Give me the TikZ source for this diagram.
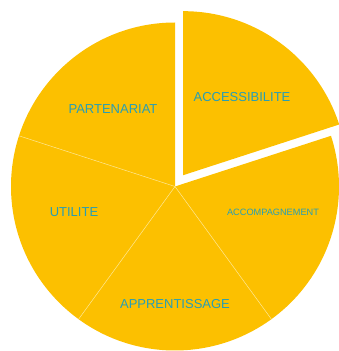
\documentclass[tikz,border=0pt]{standalone}
\usepackage{fontspec}
\setmainfont{Liberation Sans}
\usetikzlibrary{calc}
\definecolor{pieyellow}{RGB}{252,192,0}
\definecolor{pieteal}{RGB}{40,158,180}
\definecolor{pieline}{RGB}{254,232,150}

\begin{document}
\begin{tikzpicture}[x = 1pt, y = 1pt, font = \fontsize{13}{15}\selectfont, text = pieteal]
\useasboundingbox (0,0) rectangle (339,351);
\coordinate (c) at (175,164.5);
\coordinate (cx) at ($(c)+(54:14)$);
\fill [pieyellow] (c) -- ++(90:164) arc [start angle = 90, end angle = 378, radius = 164] -- cycle;
\foreach \a in {162,234,306}
\draw [pieline, line width = 0.5pt] (c) -- ++(\a:164);
\fill [pieyellow] (cx) -- ++(18:164) arc [start angle = 18, end angle = 90, radius = 164] -- cycle;
\node (partenariat) at (113,242) {PARTENARIAT};
\node (accessibilite) at (242,254) {ACCESSIBILITE};
\node (utilite) at (74,139) {UTILITE};
\node (apprentissage) at (175,47) {APPRENTISSAGE};
\node [font = \fontsize{9.2}{11}\selectfont] (accompagnement) at (273,139) {ACCOMPAGNEMENT};
\end{tikzpicture}
\end{document}
